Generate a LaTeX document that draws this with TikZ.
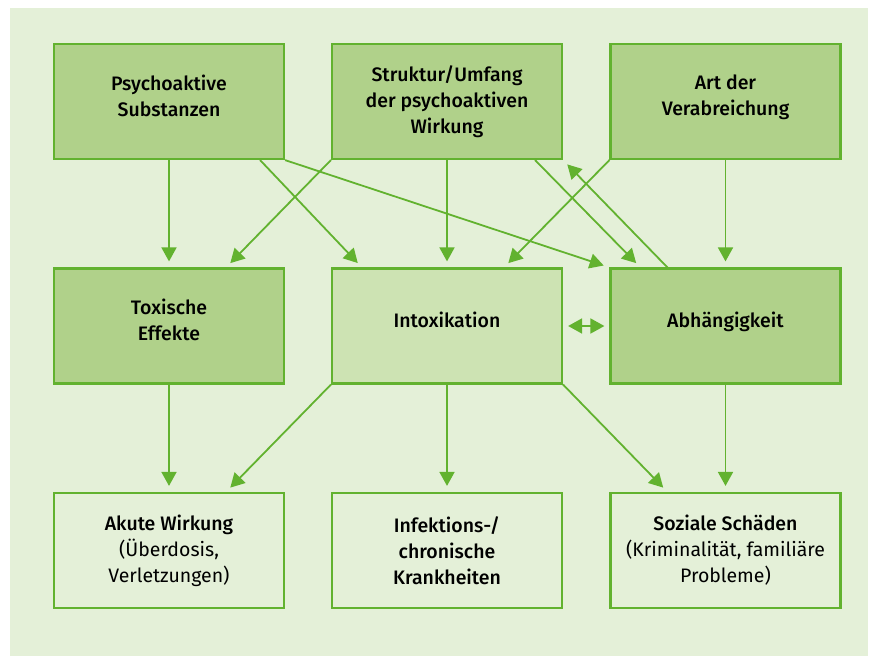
\documentclass[tikz,border=0pt]{standalone}
\usepackage{fontspec}
\setmainfont{Fira Sans}[BoldFont={Fira Sans Medium}]
\usetikzlibrary{arrows.meta}
\definecolor{bggreen}{HTML}{E4F0D8}
\definecolor{darkbox}{HTML}{B0D18A}
\definecolor{lightbox}{HTML}{CDE3B3}
\definecolor{linegreen}{HTML}{62B22F}
\tikzset{
every picture/.style={
line width=1.8pt
}}

\begin{document}
\begin{tikzpicture}[x=1pt, y=1pt,
block/.style = {rectangle, draw=linegreen, line width=2.2pt, fill=darkbox, align=center,
  minimum width=230pt, minimum height=115pt, font=\fontsize{19.5}{26}\selectfont},
lift/.style = {text depth=12pt},
light/.style = {block, fill=lightbox},
outcome/.style = {block, fill=bggreen},
arr/.style = {draw=linegreen, -{Triangle[width=15pt,length=14pt]}, shorten >=6pt}]
\useasboundingbox (0,0) rectangle (870,-656);
\fill[bggreen] (10,-8) rectangle (868,-656);

\node[block, lift] at (169,-101.5) (psy) {\textbf{Psychoaktive}\\\textbf{Substanzen}};
\node[block] at (447,-101.5) (str) {\textbf{Struktur/Umfang}\\\textbf{der psychoaktiven}\\\textbf{Wirkung}};
\node[block, lift] at (725.5,-101.5) (art) {\textbf{Art der}\\\textbf{Verabreichung}};
\node[block, lift] at (169,-326) (tox) {\textbf{Toxische}\\\textbf{Effekte}};
\node[light, lift] at (447,-326) (int) {\textbf{Intoxikation}};
\node[block, lift] at (725.5,-326) (abh) {\textbf{Abhängigkeit}};
\node[outcome] at (169,-550.5) (aku) {\textbf{Akute Wirkung}\\(Überdosis,\\Verletzungen)};
\node[outcome] at (447,-550.5) (inf) {\textbf{Infektions-/}\\\textbf{chronische}\\\textbf{Krankheiten}};
\node[outcome] at (725.5,-550.5) (soz) {\textbf{Soziale Schäden}\\(Kriminalität, familiäre\\Probleme)};

% erste Reihe
\draw[arr] (psy.south) -- (tox.north);
\draw[arr] ([xshift=-25pt]psy.south east) -- ([xshift=31pt]int.north west);
\draw[arr] (psy.south east) -- (abh.north west);
\draw[arr] (str.south west) -- ([xshift=-59pt]tox.north east);
\draw[arr] (str.south) -- (int.north);
\draw[arr] ([xshift=-28pt]str.south east) -- ([xshift=31pt]abh.north west);
\draw[arr] ([xshift=58pt]abh.north west) -- (str.south east);
\draw[arr] (art.south west) -- ([xshift=-59pt]int.north east);
\draw[arr] (art.south) -- (abh.north);
\draw[arr, {Triangle[width=15pt,length=14pt]}-{Triangle[width=15pt,length=14pt]}, shorten <=5pt, shorten >=5pt] (int.east) -- (abh.west);
% zweite Reihe
\draw[arr] (tox.south) -- (aku.north);
\draw[arr] (int.south west) -- ([xshift=-59pt]aku.north east);
\draw[arr] (int.south) -- (inf.north);
\draw[arr] (int.south east) -- ([xshift=58pt]soz.north west);
\draw[arr] (abh.south) -- (soz.north);

\end{tikzpicture}
\end{document}
